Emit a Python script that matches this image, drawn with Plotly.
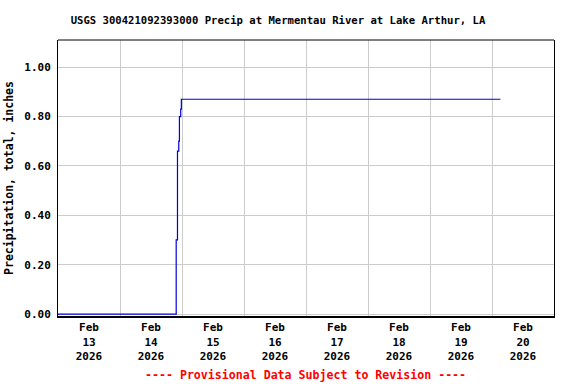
import plotly.graph_objects as go

# Data
times = [
    "2026-02-13 00:00", "2026-02-14 21:30", "2026-02-14 21:45", "2026-02-14 22:15",
    "2026-02-14 22:45", "2026-02-14 23:00", "2026-02-14 23:30", "2026-02-14 23:45",
    "2026-02-20 03:15",
]
precip = [0.00, 0.00, 0.30, 0.66, 0.70, 0.80, 0.83, 0.87, 0.87]

title_text = "USGS 300421092393000 Precip at Mermentau River at Lake Arthur, LA"
y_title = "Precipitation, total, inches"
footer = "---- Provisional Data Subject to Revision ----"

FONT = "DejaVu Sans Mono"

fig = go.Figure()
fig.add_trace(go.Scatter(
    x=times, y=precip, mode="lines", line=dict(color="#0000dd", width=1.2, shape="hv"),
    showlegend=False, hoverinfo="skip",
))

fig.update_layout(
    width=576, height=384,
    margin=dict(l=58, r=22, t=40, b=68, autoexpand=False),
    paper_bgcolor="white", plot_bgcolor="white",
    font=dict(family=FONT, size=11, color="black", weight="bold"),
    title=dict(text=title_text, x=278 / 576, xanchor="center", xref="container",
               y=1 - 20 / 384, yanchor="middle", yref="container",
               font=dict(family=FONT, size=10.6, color="black", weight="bold")),
    xaxis=dict(
        type="date", range=["2026-02-13 00:00", "2026-02-21 00:00"],
        dtick=86400000, tick0="2026-02-13", ticklabelmode="period",
        tickformat="%b<br>%d<br>%Y", showgrid=True, gridcolor="#cccccc", gridwidth=1,
        showline=True, linecolor="black", linewidth=2, mirror=False,
        ticks="", zeroline=False, automargin=False,
        tickfont=dict(family=FONT, size=11, color="black", weight="bold"),
    ),
    yaxis=dict(
        range=[-0.008, 1.11], dtick=0.2, tick0=0, tickformat=".2f",
        showgrid=True, gridcolor="#cccccc", gridwidth=1, zeroline=False,
        showline=True, linecolor="black", linewidth=1, mirror=True,
        ticks="", automargin=False, ticklabelstandoff=4,
        tickfont=dict(family=FONT, size=11, color="black", weight="bold"),
        title=dict(text=y_title, standoff=8,
                   font=dict(family=FONT, size=11.5, color="black", weight="bold")),
    ),
    shapes=[dict(type="line", xref="paper", yref="paper", x0=0, x1=1, y0=1, y1=1,
                 line=dict(color="black", width=1))],
    annotations=[dict(text=footer, xref="paper", yref="paper", x=0.499, y=(316 - 375) / 276,
                      xanchor="center", yanchor="middle", showarrow=False,
                      font=dict(family=FONT, size=11.6, color="red", weight="bold"))],
)

fig.write_html("out.html", config={"displayModeBar": False},
               post_script="document.body.style.margin='0';document.body.style.padding='0';")
